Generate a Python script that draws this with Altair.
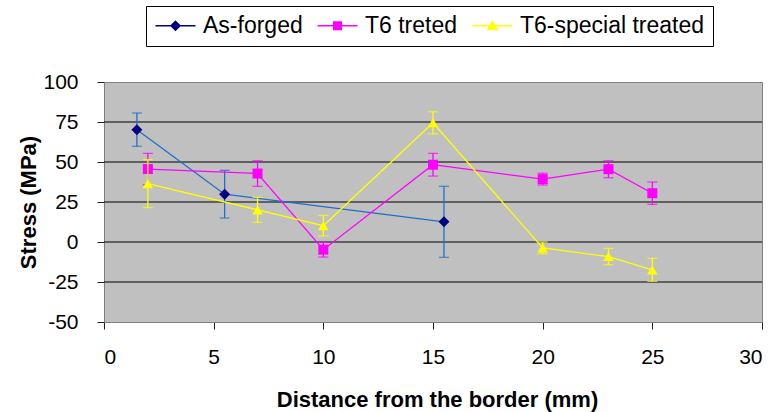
import altair as alt
import pandas as pd

series_names = ["As-forged", "T6 treted", "T6-special treated"]

x_asforged = [1.5, 5.5, 15.5]
y_asforged = [70.2, 29.9, 12.6]
e_asforged = [10.4, 14.9, 22.2]

x_t6 = [2, 7, 10, 15, 20, 23, 25]
y_t6 = [45.6, 42.8, -4.8, 48.3, 39.3, 45.5, 30.5]
e_t6 = [9.8, 8.0, 4.6, 7.1, 3.7, 5.3, 7.0]

x_sp = [2, 7, 10, 15, 20, 23, 25]
y_sp = [36.5, 20.1, 10.2, 74.5, -3.7, -9.1, -17.4]
e_sp = [15.0, 7.8, 6.4, 6.9, 3.7, 5.1, 7.2]

line_colors = ["#1F6FC8", "#FF00FF", "#FFFF00"]
marker_colors = ["#000080", "#FF00FF", "#FFFF00"]
legend_colors = ["#000080", "#FF00FF", "#FFFF00"]
shapes = ["diamond", "square", "triangle-up"]
marker_sizes = [120, 100, 110]
bar = "M-1,-0.065L3,-0.065L3,0.065L-1,0.065Z"
legend_paths = [
    bar + "M1,-0.55L1.55,0L1,0.55L0.45,0Z",
    bar + "M0.55,-0.45L1.45,-0.45L1.45,0.45L0.55,0.45Z",
    bar + "M1,-0.55L1.6,0.45L0.4,0.45Z",
]

x_ticks = [0, 5, 10, 15, 20, 25, 30]
y_ticks = [-50, -25, 0, 25, 50, 75, 100]
grid_values = [-25, 0, 25, 50, 75]

rows = []
for i, (xs, ys, es) in enumerate([(x_asforged, y_asforged, e_asforged),
                                    (x_t6, y_t6, e_t6),
                                    (x_sp, y_sp, e_sp)]):
    for k, (x, y, e) in enumerate(zip(xs, ys, es)):
        rows.append({"series": series_names[i], "order": i, "k": k, "x": x, "y": y,
                     "lo": y - e, "hi": y + e})
df = pd.DataFrame(rows)
grid_df = pd.DataFrame({"g": grid_values})

W, H = 658, 240
xs = alt.Scale(domain=[0, 30], nice=False)
ys = alt.Scale(domain=[-50, 100], nice=False)

xaxis = alt.Axis(values=x_ticks, title="Distance from the border (mm)",
                 grid=False, tickSize=7, labelPadding=17, labelFontSize=21,
                 labelOverlap=False,
                 titleFontSize=22, titleFontWeight="bold",
                 titleX=333, titleY=84, titleBaseline="alphabetic",
                 titleAlign="center")
yaxis = alt.Axis(values=y_ticks, title="Stress (MPa)", grid=False,
                 tickSize=7, labelPadding=19, labelFontSize=21,
                 labelOverlap=False,
                 labelExpr="datum.value < 0 ? '-' + abs(datum.value) : '' + datum.value",
                 titleFontSize=22, titleFontWeight="bold",
                 titleX=-69, titleBaseline="alphabetic")

grid = alt.Chart(grid_df).mark_rule(color="black", strokeWidth=1).encode(
    y=alt.Y("g:Q", scale=ys, axis=yaxis)
)

legend_layer = alt.Chart(df).mark_point(filled=True, size=0, strokeWidth=0,
                                        opacity=1).encode(
    x=alt.X("x:Q", scale=xs, axis=xaxis),
    y=alt.Y("y:Q", scale=ys, axis=yaxis),
    color=alt.Color("series:N",
                    scale=alt.Scale(domain=series_names, range=legend_colors),
                    legend=alt.Legend(title=None, orient="none", legendX=42, legendY=-76,
                                      direction="horizontal", columns=3,
                                      strokeColor="black", fillColor="white",
                                      padding=8, symbolSize=400,
                                      symbolStrokeWidth=0, symbolOpacity=1,
                                      labelFontSize=23, labelOffset=26,
                                      columnPadding=13, labelLimit=400,
                                      labelColor="black")),
    shape=alt.Shape("series:N",
                    scale=alt.Scale(domain=series_names, range=legend_paths)),
)

layers = [grid, legend_layer]
for i, name in enumerate(series_names):
    d = df[df["series"] == name]
    base = alt.Chart(d)
    X = alt.X("x:Q", scale=xs, axis=xaxis)
    line = base.mark_line(strokeWidth=1.3, color=line_colors[i]).encode(
        x=X, y=alt.Y("y:Q", scale=ys, axis=yaxis), order="k:Q")
    err = base.mark_rule(strokeWidth=1.3, color=line_colors[i]).encode(
        x=X, y=alt.Y("lo:Q", scale=ys, axis=yaxis), y2="hi:Q")
    cap_lo = base.mark_tick(orient="horizontal", size=10, thickness=1.3,
                            color=line_colors[i]).encode(
        x=X, y=alt.Y("lo:Q", scale=ys, axis=yaxis))
    cap_hi = base.mark_tick(orient="horizontal", size=10, thickness=1.3,
                            color=line_colors[i]).encode(
        x=X, y=alt.Y("hi:Q", scale=ys, axis=yaxis))
    pts = base.mark_point(filled=True, size=marker_sizes[i], opacity=1, strokeWidth=0,
                          color=marker_colors[i], shape=shapes[i]).encode(
        x=X, y=alt.Y("y:Q", scale=ys, axis=yaxis))
    layers += [line, err, cap_lo, cap_hi, pts]

chart = alt.layer(*layers).properties(
    width=W, height=H,
    autosize=alt.AutoSizeParams(type="none"),
    padding={"left": 104, "top": 82, "right": 14, "bottom": 90},
).configure(font="Liberation Sans").configure_view(
    fill="#C0C0C0", stroke="#808080", strokeWidth=1
).configure_axis(
    domainColor="#808080", tickColor="#202020", labelColor="black",
    titleColor="black", domainWidth=1, labelOverlap=False
)

chart.save("out.html", embed_options={"renderer": "svg", "actions": False})
